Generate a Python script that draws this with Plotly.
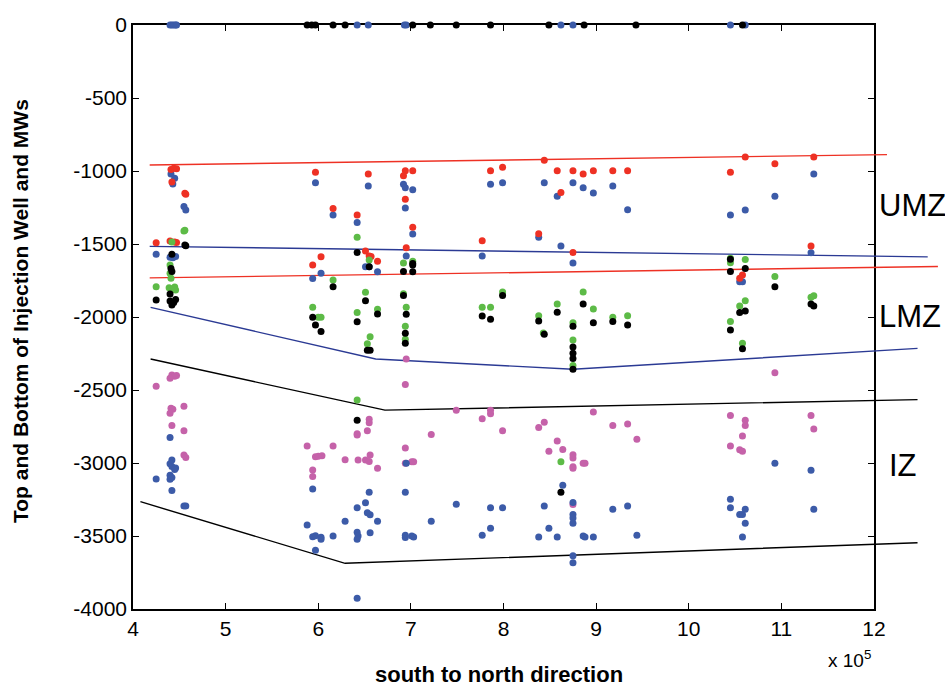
import plotly.graph_objects as go

# ---------------- data (x in units of 1e5, y depth) ----------------
red_x = [4.41, 4.44, 4.47, 4.42, 4.56, 4.57, 4.25, 4.40, 4.45, 4.47,
         5.97, 6.54, 6.16, 6.42, 6.51, 6.55, 6.57, 6.64, 6.03, 5.94,
         6.94, 6.92, 7.02, 7.86, 7.99, 8.44, 8.58, 8.75, 8.86, 8.97, 9.18, 9.34,
         8.62, 6.94, 7.02, 7.77, 8.38, 8.75, 6.95,
         10.45, 10.61, 10.93, 11.35, 11.32, 10.58, 10.55]
red_y = [-990, -982, -985, -1075, -1153, -1160, -1491, -1480, -1487, -1490,
         -1009, -1021, -1256, -1301, -1548, -1582, -1586, -1619, -1587, -1644,
         -998, -1032, -998, -998, -975, -927, -998, -998, -1021, -998, -998, -998,
         -1148, -1194, -1385, -1477, -1430, -1559, -1525,
         -1009, -904, -950, -904, -1514, -1712, -1735]

blue_x = [4.40, 4.42, 4.44, 4.46, 4.47, 6.42, 6.54, 6.93, 6.95, 8.62, 8.75, 10.45, 10.61,
          4.41, 4.45, 4.43, 4.55, 4.57, 4.25, 4.40, 4.43, 4.46,
          4.40, 4.42, 4.40, 4.42, 4.46, 4.45, 4.40, 4.42, 4.40, 4.25, 4.42, 4.55, 4.57,
          5.97, 6.54, 6.16, 6.42, 6.51, 6.55, 6.03, 5.94, 6.64,
          5.94, 6.55, 6.51, 6.42, 6.53, 6.56, 6.29, 6.64, 5.88, 5.94, 5.97, 6.03, 6.03,
          6.16, 6.42, 6.43, 6.42, 6.56, 5.97, 6.42,
          6.92, 6.94, 7.02, 6.94, 7.86, 7.99, 8.44, 8.75, 8.86, 8.97, 9.18, 9.34, 8.58,
          7.02, 8.38, 8.62, 7.77, 6.95, 8.75,
          6.95, 6.94, 7.22, 7.49, 7.86, 7.99, 7.86, 7.77, 6.94, 6.94, 7.01, 7.03,
          8.44, 8.64, 8.75, 8.75, 8.75, 8.75, 8.49, 8.38, 8.58, 8.86, 8.88, 8.97,
          9.18, 9.34, 9.44, 8.75, 8.75,
          11.35, 10.93, 10.45, 10.61, 11.32, 10.55, 10.58,
          10.93, 11.32, 10.45, 10.45, 10.55, 10.58, 10.61, 10.61, 10.58, 11.35]
blue_y = [0, 0, 0, 0, 0, 0, 0, 0, 0, 0, 0, 0, 0,
          -1020, -1050, -1089, -1244, -1267, -1571, -1590, -1595, -1585,
          -2826, -2979, -3005, -3024, -3035, -3045, -3084, -3100, -3112, -3110, -3189, -3294, -3294,
          -1080, -1103, -1301, -1352, -1655, -1655, -1701, -1737, -1690,
          -3178, -3201, -3272, -3306, -3341, -3355, -3399, -3399, -3425, -3505, -3498, -3509, -3523,
          -3500, -3475, -3500, -3523, -3477, -3598, -3927,
          -1091, -1114, -1128, -1253, -1091, -1080, -1080, -1080, -1114, -1151, -1103, -1265, -1173,
          -1432, -1454, -1514, -1582, -1582, -1630,
          -3002, -3201, -3399, -3283, -3306, -3306, -3447, -3495, -3495, -3510, -3500, -3507,
          -3295, -3153, -3271, -3353, -3376, -3412, -3447, -3507, -3507, -3500, -3507, -3507,
          -3317, -3295, -3495, -3635, -3683,
          -1021, -1173, -1301, -1267, -1560, -1758, -1758,
          -3002, -3050, -3249, -3306, -3353, -3353, -3317, -3412, -3507, -3317]

green_x = [4.55, 4.56, 4.42, 4.40, 4.40, 4.41, 4.25, 4.39, 4.45, 4.46, 4.44,
           6.42, 6.55, 6.16, 6.51, 5.94, 6.42, 6.64, 6.03, 6.00, 6.56, 6.53, 6.42,
           6.92, 7.02, 6.92, 6.95, 7.77, 7.86, 7.99, 8.38, 8.58, 8.86, 8.97, 9.18, 9.34,
           6.94, 6.94, 8.43, 8.75, 8.75, 8.75, 8.62,
           10.45, 10.45, 10.61, 10.93, 11.32, 11.35, 10.55, 10.61, 10.45, 10.58]
green_y = [-1411, -1405, -1487, -1644, -1701, -1735, -1792, -1800, -1795, -1815, -1808,
           -1454, -1610, -1747, -1831, -1934, -1970, -1947, -2002, -2002, -2135, -2183, -2568,
           -1630, -1619, -1840, -1934, -1934, -1934, -1829, -1991, -1911, -1829, -1945, -2002, -1991,
           -2064, -2153, -2110, -2039, -2158, -2333, -2991,
           -1598, -1628, -1607, -1723, -1865, -1854, -1924, -1888, -2030, -2180]

black_x = [5.88, 5.93, 5.97, 6.16, 6.29, 7.02, 7.21, 7.49, 7.86, 8.49, 8.87, 9.43, 10.58,
           4.56, 4.57, 4.42, 4.41, 4.42, 4.40, 4.25, 4.40, 4.46, 4.42, 4.44,
           6.42, 6.55, 6.16, 6.51, 6.64, 5.94, 5.97, 6.03, 6.42, 6.53, 6.56, 6.42,
           6.92, 7.02, 7.02, 7.02, 6.92, 6.95, 7.77, 7.86, 7.99, 8.38, 8.58, 8.86, 8.97,
           9.18, 9.34, 6.94, 6.94, 8.44, 8.75, 8.75, 8.75, 8.75, 8.75, 8.62,
           10.45, 10.45, 10.61, 10.93, 11.32, 11.35, 10.55, 10.61, 10.45, 10.58]
black_y = [0, 0, 0, 0, 0, 0, 0, 0, 0, 0, 0, 0, 0,
           -1507, -1512, -1571, -1667, -1689, -1842, -1884, -1890, -1880, -1918, -1900,
           -1559, -1655, -1792, -1888, -1979, -2002, -2055, -2100, -2032, -2228, -2228, -2708,
           -1689, -1633, -1644, -1690, -1853, -1982, -1993, -2016, -1853, -2027, -1968, -1911, -2039,
           -2030, -2055, -2112, -2180, -2119, -2064, -2206, -2249, -2285, -2358, -3201,
           -1605, -1689, -1667, -1792, -1911, -1924, -1970, -1959, -2089, -2217]

magenta_x = [4.42, 4.45, 4.40, 4.47, 4.25, 4.41, 4.43, 4.40, 4.55, 4.42, 4.55, 4.55, 4.57,
             5.88, 6.16, 5.97, 6.00, 6.04, 5.94, 5.94, 6.29, 6.42, 6.42, 6.53, 6.55, 6.55,
             6.43, 6.51, 6.55, 6.56, 6.64,
             6.95, 6.94, 7.49, 7.77, 7.86, 7.86, 7.99, 7.22, 6.94, 6.94, 7.01, 7.03,
             8.38, 8.44, 8.58, 8.49, 8.64, 8.75, 8.75, 8.75, 8.75, 8.86, 8.88,
             8.97, 9.18, 9.34, 9.44, 8.75,
             10.93, 10.45, 10.61, 10.61, 10.58, 10.45, 10.55, 10.58, 11.32, 11.35]
magenta_y = [-2397, -2405, -2420, -2400, -2475, -2625, -2632, -2660, -2612, -2744, -2779, -2945, -2963,
             -2883, -2883, -2957, -2953, -2950, -3048, -3093, -2977, -2808, -2800, -2779, -2701, -2724,
             -2980, -2980, -2989, -2945, -3036,
             -2288, -2463, -2639, -2697, -2639, -2662, -2779, -2804, -2897, -3002, -2991, -2991,
             -2756, -2721, -2849, -2920, -2907, -2943, -2966, -3025, -3036, -3002, -3002,
             -2651, -2744, -2733, -2838, -3285,
             -2381, -2674, -2708, -2744, -2815, -2883, -2909, -2920, -2674, -2767]

# zone boundary lines
umz_top_x = [4.18, 12.14]
umz_top_y = [-959, -888]
umz_bot_x = [4.18, 12.58]
umz_bot_y = [-1516, -1588]
lmz_top_x = [4.18, 12.69]
lmz_top_y = [-1732, -1654]
lmz_bot_x = [4.19, 6.62, 8.75, 12.47]
lmz_bot_y = [-1934, -2288, -2358, -2215]
iz_top_x = [4.19, 6.72, 12.47]
iz_top_y = [-2288, -2638, -2566]
iz_bot_x = [4.08, 6.29, 12.47]
iz_bot_y = [-3265, -3687, -3546]

x_ticks = [4, 5, 6, 7, 8, 9, 10, 11, 12]
x_ticklabels = [str(v) for v in x_ticks]
y_ticks = [0, -500, -1000, -1500, -2000, -2500, -3000, -3500, -4000]
y_ticklabels = ["0", "-500", "-1000", "-1500", "-2000", "-2500", "-3000", "-3500", "-4000"]
zone_labels = ["UMZ", "LMZ", "IZ"]

# ---------------- layout geometry ----------------
W, H = 945, 686
BOX_L, BOX_R, BOX_T, BOX_B = 133, 874, 25, 609     # framed axes box (pixels)
DATA_R, DATA_T, DATA_B = 945, 8, 622                # data layer extends past the box
XR = [4, 12]
YR = [-4000, 0]

pw = DATA_R - BOX_L
ph = DATA_B - DATA_T
ppx = (BOX_R - BOX_L) / (XR[1] - XR[0])
ppy = (BOX_B - BOX_T) / (YR[1] - YR[0])
data_xr = [XR[0], XR[0] + pw / ppx]
data_yr = [YR[1] - (DATA_B - BOX_T) / ppy, YR[1] + (BOX_T - DATA_T) / ppy]


def px(xp, yp):
    return (xp - BOX_L) / pw, (DATA_B - yp) / ph


FONT = "Liberation Sans, Arial, Helvetica, sans-serif"
RED = "#EE3124"
BLUE = "#3C5BA8"
GREEN = "#5DBB47"
MAGENTA = "#C562A9"
BLACK = "#000000"
NAVY = "#2B3A94"

fig = go.Figure()

# frame subplot (carries the visible axes box)
fig.add_trace(go.Scatter(x=[], y=[], mode="markers", xaxis="x", yaxis="y",
                         hoverinfo="skip", showlegend=False))

line_specs = [
    (umz_top_x, umz_top_y, RED),
    (umz_bot_x, umz_bot_y, NAVY),
    (lmz_top_x, lmz_top_y, RED),
    (lmz_bot_x, lmz_bot_y, NAVY),
    (iz_top_x, iz_top_y, BLACK),
    (iz_bot_x, iz_bot_y, BLACK),
]
for lx, ly, c in line_specs:
    fig.add_trace(go.Scatter(x=lx, y=ly, mode="lines", line=dict(color=c, width=1.4),
                             xaxis="x2", yaxis="y2", hoverinfo="skip", showlegend=False))

for sx, sy, c in [(magenta_x, magenta_y, MAGENTA), (blue_x, blue_y, BLUE),
                  (red_x, red_y, RED), (green_x, green_y, GREEN), (black_x, black_y, BLACK)]:
    fig.add_trace(go.Scatter(x=sx, y=sy, mode="markers",
                             marker=dict(color=c, size=7, line=dict(width=0)),
                             xaxis="x2", yaxis="y2", cliponaxis=False, showlegend=False))

axis_common = dict(showgrid=False, zeroline=False, showline=True, linecolor="black",
                   linewidth=1.5, mirror="ticks", ticks="inside", ticklen=6, tickwidth=1,
                   tickcolor="black", automargin=False,
                   tickfont=dict(family=FONT, size=21, color="black"))

ann = []
x0, y0 = px(20, 311)
ann.append(dict(x=x0, y=y0, text="<b>Top and Bottom of Injection Well and MWs</b>", textangle=-90,
                showarrow=False, xref="paper", yref="paper", xanchor="center", yanchor="middle",
                font=dict(family=FONT, size=21, color="black")))
x0, y0 = px(499, 674)
ann.append(dict(x=x0, y=y0, text="<b>south to north direction</b>", showarrow=False,
                xref="paper", yref="paper", xanchor="center", yanchor="middle",
                font=dict(family=FONT, size=22, color="black")))
x0, y0 = px(849, 659)
ann.append(dict(x=x0, y=y0, text="x 10<sup>5</sup>", showarrow=False,
                xref="paper", yref="paper", xanchor="center", yanchor="middle",
                font=dict(family=FONT, size=19, color="black")))
for lbl, (lx, ly) in zip(zone_labels, [(877, 205), (877, 316), (887, 465)]):
    x0, y0 = px(lx, ly)
    ann.append(dict(x=x0, y=y0, text=lbl, showarrow=False, xref="paper", yref="paper",
                    xanchor="left", yanchor="middle",
                    font=dict(family=FONT, size=31, color="black")))

fig.update_layout(
    width=W, height=H,
    margin=dict(l=BOX_L, r=W - DATA_R, t=DATA_T, b=H - DATA_B, pad=0, autoexpand=False),
    paper_bgcolor="white", plot_bgcolor="rgba(0,0,0,0)",
    showlegend=False,
    xaxis=dict(domain=[0, (BOX_R - BOX_L) / pw], range=XR, anchor="y",
               tickvals=x_ticks, ticktext=x_ticklabels, fixedrange=True, **axis_common),
    yaxis=dict(domain=[(DATA_B - BOX_B) / ph, (DATA_B - BOX_T) / ph], range=YR, anchor="x",
               tickvals=y_ticks, ticktext=y_ticklabels, fixedrange=True, **axis_common),
    xaxis2=dict(domain=[0, 1], range=data_xr, anchor="y2", visible=False, fixedrange=True,
                automargin=False),
    yaxis2=dict(domain=[0, 1], range=data_yr, anchor="x2", visible=False, fixedrange=True,
                automargin=False),
    annotations=ann,
)

fig.write_html("out.html", config={"displayModeBar": False},
               post_script="document.body.style.margin='0px';document.body.style.overflow='hidden';")
